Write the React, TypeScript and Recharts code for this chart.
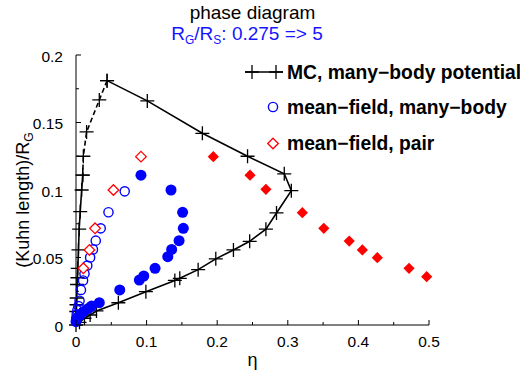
import React from 'react'
import { ScatterChart, Scatter, XAxis, YAxis } from 'recharts'

document.body.style.margin = '0'

const FONT = '"Liberation Sans", Arial, sans-serif'

// MC, many-body potential: solid part (down the eta=0 branch, along the lower branch, back up to the peak)
const mcSolidX = [0.0095, 0.008, 0.006, 0.0045, 0.0035, 0.0025, 0.002, 0.0015, 0.001, 0.0007, 0.0004, 0, 0.005, 0.012, 0.02, 0.029, 0.06, 0.099, 0.14, 0.147, 0.173, 0.198, 0.223, 0.246, 0.269, 0.284, 0.305, 0.295, 0.243, 0.179, 0.101, 0.044]
const mcSolidY = [0.111, 0.1, 0.084, 0.071, 0.0556, 0.042, 0.035, 0.03, 0.02, 0.015, 0.01, 0, 0.002, 0.005, 0.0074, 0.0104, 0.0165, 0.0247, 0.033, 0.0346, 0.041, 0.049, 0.0556, 0.062, 0.071, 0.083, 0.0995, 0.112, 0.125, 0.142, 0.166, 0.181]
// dashed part from the peak down to the eta=0 branch
const mcDashX = [0.044, 0.033, 0.015, 0.0104, 0.0095]
const mcDashY = [0.181, 0.1667, 0.143, 0.125, 0.111]

// mean-field, many-body (open and filled)
const mfOpenX = [0.069, 0.046, 0.035, 0.028, 0.024, 0.02, 0.016, 0.012, 0.01, 0.007, 0.005, 0.0035, 0.002, 0.001, 0.0005]
const mfOpenY = [0.099, 0.0835, 0.0716, 0.0625, 0.056, 0.05, 0.044, 0.038, 0.033, 0.026, 0.018, 0.014, 0.011, 0.008, 0.005]
const mfFilledX = [0.092, 0.1346, 0.151, 0.152, 0.146, 0.1355, 0.13, 0.112, 0.096, 0.0897, 0.062, 0.033, 0.022, 0.0175, 0.0104, 0.0057, 0.001, 0]
const mfFilledY = [0.111, 0.1, 0.0835, 0.0716, 0.0625, 0.056, 0.0506, 0.042, 0.0363, 0.0333, 0.026, 0.0165, 0.014, 0.0123, 0.0099, 0.0074, 0.005, 0.0025]

// mean-field, pair (open and filled)
const pairOpenX = [0.092, 0.053, 0.027, 0.019, 0.0104]
const pairOpenY = [0.1247, 0.1, 0.0716, 0.0556, 0.042]
const pairFilledX = [0.1945, 0.2465, 0.269, 0.3206, 0.351, 0.387, 0.4056, 0.4268, 0.4717, 0.4967]
const pairFilledY = [0.1247, 0.111, 0.1005, 0.0832, 0.0716, 0.0622, 0.0556, 0.0499, 0.042, 0.0358]

const xTicks = [0, 0.05, 0.1, 0.15, 0.2, 0.25, 0.3, 0.35, 0.4, 0.45, 0.5]
const yTicks = [0, 0.025, 0.05, 0.075, 0.1, 0.125, 0.15, 0.175, 0.2]

const zip = (xs: number[], ys: number[]) => xs.map((x, i) => ({ x, y: ys[i] }))

const plusPath = (cx: number, cy: number, r = 7) => `M${cx - r},${cy}H${cx + r}M${cx},${cy - r}V${cy + r}`
const diamondPts = (cx: number, cy: number, r: number) => `${cx},${cy - r} ${cx + r},${cy} ${cx},${cy + r} ${cx - r},${cy}`

const Plus = (p: any) => <path d={plusPath(p.cx, p.cy)} stroke="#000" strokeWidth={1.3} fill="none" />
const OpenCircle = (p: any) => <circle cx={p.cx} cy={p.cy} r={4.6} stroke="#0000ff" strokeWidth={1.4} fill="none" />
const FilledCircle = (p: any) => <circle cx={p.cx} cy={p.cy} r={5.5} fill="#0000ff" />
const OpenDiamond = (p: any) => <polygon points={diamondPts(p.cx, p.cy, 5.3)} stroke="#ff0000" strokeWidth={1.3} fill="#fff" />
const FilledDiamond = (p: any) => <polygon points={diamondPts(p.cx, p.cy, 5.6)} fill="#ff0000" />

const isMultiple = (v: number, step: number) => Math.abs(v / step - Math.round(v / step)) < 1e-6

const XTick = ({ x, y, payload }: any) => {
  const major = isMultiple(payload.value, 0.1)
  return (
    <g>
      <line x1={x} x2={x} y1={y} y2={y - (major ? 5 : 3)} stroke="#000" />
      {major && (
        <text x={x} y={y + 16} textAnchor="middle" dominantBaseline="central" fontSize={15.5} fontFamily={FONT} fill="#000">
          {String(payload.value)}
        </text>
      )}
    </g>
  )
}

const YTick = ({ x, y, payload }: any) => {
  const major = isMultiple(payload.value, 0.05)
  return (
    <g>
      <line x1={x} x2={x + (major ? 5 : 3)} y1={y} y2={y} stroke="#000" />
      {major && (
        <text x={x - 13} y={y + 1} textAnchor="end" dominantBaseline="central" fontSize={15.5} fontFamily={FONT} fill="#000">
          {String(payload.value)}
        </text>
      )}
    </g>
  )
}

const YLabel = ({ viewBox }: any) => {
  const cx = viewBox.x + 12.5
  const cy = viewBox.y + viewBox.height / 2 + 10
  return (
    <text x={cx} y={cy} transform={`rotate(-90 ${cx} ${cy})`} textAnchor="middle" fontSize={18} fontFamily={FONT} fill="#000">
      (Kuhn length)/R<tspan fontSize={12} dy={4}>G</tspan>
    </text>
  )
}

const XLabel = ({ viewBox }: any) => (
  <text x={viewBox.x + viewBox.width / 2} y={viewBox.y + 41} textAnchor="middle" fontSize={18} fontFamily={FONT} fill="#000">
    η
  </text>
)

export default function App() {
  return (
    <div style={{ position: 'relative', width: 520, height: 372, background: '#fff', overflow: 'hidden' }}>
      <ScatterChart width={520} height={372} margin={{ top: 55, right: 91, bottom: 0, left: 16 }}>
        <XAxis
          type="number"
          dataKey="x"
          domain={[0, 0.5]}
          ticks={xTicks}
          interval={0}
          tickSize={0}
          tickMargin={0}
          tick={<XTick />}
          height={47}
          stroke="#000"
          label={<XLabel />}
        />
        <YAxis
          type="number"
          dataKey="y"
          domain={[0, 0.2]}
          ticks={yTicks}
          interval={0}
          tickSize={0}
          tickMargin={0}
          tick={<YTick />}
          width={60}
          stroke="#000"
          label={<YLabel />}
        />
        <Scatter data={zip(mcSolidX, mcSolidY)} fill="#000" shape={Plus} line={{ stroke: '#000', strokeWidth: 1.6 }} isAnimationActive={false} />
        <Scatter data={zip(mcDashX, mcDashY)} fill="#000" shape={Plus} line={{ stroke: '#000', strokeWidth: 1.6, strokeDasharray: '5 3' }} isAnimationActive={false} />
        <Scatter data={zip(mfOpenX, mfOpenY)} fill="#0000ff" shape={OpenCircle} isAnimationActive={false} />
        <Scatter data={zip(mfFilledX, mfFilledY)} fill="#0000ff" shape={FilledCircle} isAnimationActive={false} />
        <Scatter data={zip(pairOpenX, pairOpenY)} fill="#ff0000" shape={OpenDiamond} isAnimationActive={false} />
        <Scatter data={zip(pairFilledX, pairFilledY)} fill="#ff0000" shape={FilledDiamond} isAnimationActive={false} />
      </ScatterChart>

      <svg width={520} height={372} style={{ position: 'absolute', left: 0, top: 0, pointerEvents: 'none' }} fontFamily={FONT}>
        <text x={252.5} y={19} textAnchor="middle" fontSize={19} fill="#000">phase diagram</text>
        <text x={247} y={40} textAnchor="middle" fontSize={19} fill="#1515ff">
          R<tspan fontSize={12} dy={4}>G</tspan><tspan dy={-4}>/R</tspan><tspan fontSize={12} dy={4}>S</tspan><tspan dy={-4}>: 0.275 =&gt; 5</tspan>
        </text>

        <line x1={245} x2={283} y1={72} y2={72} stroke="#000" strokeWidth={1.6} />
        <path d={plusPath(252, 72)} stroke="#000" strokeWidth={1.3} />
        <path d={plusPath(276, 72)} stroke="#000" strokeWidth={1.3} />
        <text x={287} y={78.5} fontSize={19.3} fontWeight="bold" fill="#000">MC, many−body potential</text>

        <circle cx={273} cy={107} r={4.6} stroke="#0000ff" strokeWidth={1.4} fill="none" />
        <text x={287} y={113.5} fontSize={19.3} fontWeight="bold" fill="#000">mean−field, many−body</text>

        <polygon points={diamondPts(273, 143.5, 5.3)} stroke="#ff0000" strokeWidth={1.3} fill="none" />
        <text x={287} y={150} fontSize={19.3} fontWeight="bold" fill="#000">mean−field, pair</text>
      </svg>
    </div>
  )
}
